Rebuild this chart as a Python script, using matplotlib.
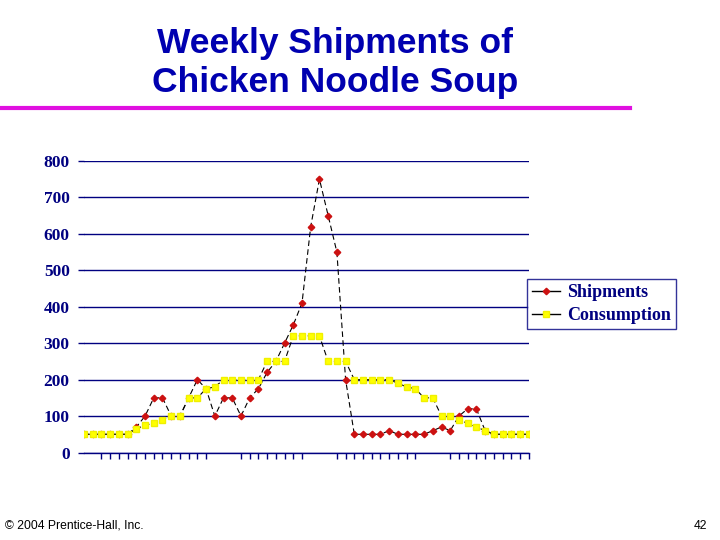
import matplotlib
matplotlib.use("Agg")
import matplotlib.pyplot as plt
from matplotlib.lines import Line2D

# weekly values (52 weeks)
weeks = list(range(52))
shipments = [50, 50, 50, 50, 50, 50, 70, 100, 150, 150,
             100, 100, 150, 200, 175, 100, 150, 150, 100, 150,
             175, 220, 250, 300, 350, 410, 620, 750, 650, 550,
             200, 50, 50, 50, 50, 60, 50, 50, 50, 50,
             60, 70, 60, 100, 120, 120, 60, 50, 50, 50,
             50, 50]
consumption = [50, 50, 50, 50, 50, 50, 65, 75, 80, 90,
               100, 100, 150, 150, 175, 180, 200, 200, 200, 200,
               200, 250, 250, 250, 320, 320, 320, 320, 250, 250,
               250, 200, 200, 200, 200, 200, 190, 180, 175, 150,
               150, 100, 100, 90, 80, 70, 60, 50, 50, 50,
               50, 50]
# weeks that carry a tick mark on the category axis
tick_weeks = list(range(2, 15)) + list(range(18, 26)) + list(range(29, 39)) + list(range(42, 52))
y_ticks = [0, 100, 200, 300, 400, 500, 600, 700, 800]

navy = '#000080'
title_blue = '#0000B0'

fig = plt.figure(figsize=(7.2, 5.4), dpi=100)
ax = fig.add_axes([0.1167, 0.162, 0.6176, 0.540])

ax.plot(weeks, shipments, color='black', linewidth=0.8, linestyle=(0, (5, 3)),
        marker='D', markersize=3.3, markerfacecolor='#CC1111', markeredgecolor='#CC1111',
        zorder=2)
ax.plot(weeks, consumption, color='black', linewidth=0.8, linestyle=(0, (5, 3)),
        marker='s', markersize=3.8, markerfacecolor='#FFFF00', markeredgecolor='#F0F000',
        zorder=3)

ax.set_xlim(0, 51)
ax.set_ylim(0, 800)
ax.set_yticks(y_ticks)
ax.set_yticklabels([str(v) for v in y_ticks], fontfamily='Liberation Serif',
                   fontweight='bold', fontsize=12.5, color=navy)
ax.set_xticks(tick_weeks)
ax.set_xticklabels([])
ax.yaxis.grid(True, color=navy, linewidth=1)
ax.tick_params(axis='y', length=4.3, width=1, color=navy, pad=6)
ax.tick_params(axis='x', length=4.3, width=1, color=navy, direction='out')
for s in ['top', 'right', 'left']:
    ax.spines[s].set_visible(False)
ax.spines['bottom'].set_color(navy)
ax.spines['bottom'].set_linewidth(1)
ax.set_axisbelow(True)

handles = [Line2D([], [], color='black', linewidth=1, marker='D', markersize=3.3,
                  markerfacecolor='#CC1111', markeredgecolor='#CC1111'),
           Line2D([], [], color='black', linewidth=1, marker='s', markersize=3.8,
                  markerfacecolor='#FFFF00', markeredgecolor='#F0F000')]
leg = fig.legend(handles, ['Shipments', 'Consumption'], loc='upper left',
                 bbox_to_anchor=(527 / 720, 1 - 279 / 540),
                 prop={'family': 'Liberation Serif', 'weight': 'bold', 'size': 13},
                 frameon=True, fancybox=False, edgecolor=navy, handlelength=1.5,
                 handletextpad=0.4, borderpad=0.3, labelspacing=0.3,
                 borderaxespad=0)
leg.get_frame().set_linewidth(1)
for t in leg.get_texts():
    t.set_color(navy)

fig.text(335 / 720, 1 - 63 / 540, 'Weekly Shipments of\nChicken Noodle Soup',
         ha='center', va='center', fontfamily='Liberation Sans', fontweight='bold',
         fontsize=25.5, color=title_blue, linespacing=1.24)
fig.add_artist(Line2D([0, 630 / 720], [1 - 107.8 / 540] * 2,
                      color='#E010E0', linewidth=3))

fig.text(5 / 720, 1 - 526 / 540, '© 2004 Prentice-Hall, Inc.', ha='left', va='center',
         fontfamily='Liberation Sans', fontsize=8.7, color='black')
fig.text(707 / 720, 1 - 526 / 540, '42', ha='right', va='center',
         fontfamily='Liberation Sans', fontsize=8.7, color='black')

fig.savefig('out.png', dpi=100)
